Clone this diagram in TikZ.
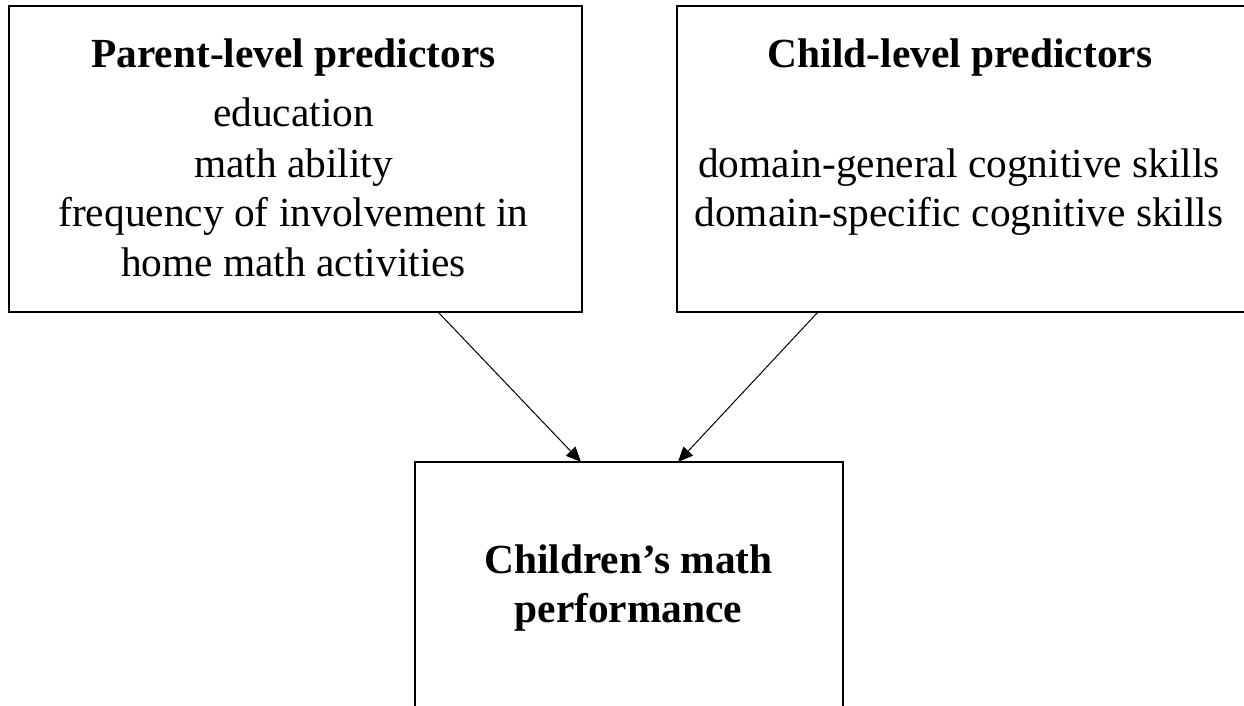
\documentclass[tikz,border=0pt]{standalone}
\usepackage{fontspec}
\setmainfont{Liberation Serif}
\usetikzlibrary{positioning}
\usetikzlibrary{arrows.meta}
\usetikzlibrary{calc}

\tikzset{
  box/.style={draw, line width=1pt, inner sep=0pt, outer sep=0pt},
  head/.style={font=\fontsize{20.7}{25}\selectfont\bfseries, anchor=base, inner sep=0pt},
  item/.style={font=\fontsize{20.7}{25}\selectfont, anchor=base, inner sep=0pt},
  arr/.style={-{Triangle[length=7.5pt,width=6.5pt]}, line width=0.5pt}
}

\begin{document}
\begin{tikzpicture}[x=0.5pt, y=-0.5pt]
                \useasboundingbox (0,0) rectangle (1244,706);
                \clip (0,0) rectangle (1244,706);
                \fill[white] (0,0) rectangle (1244,706);

                % Define the boxes
                \node[box, minimum width=573.5*0.5pt, minimum height=306*0.5pt] (parent) at (295.25,159) {};
                \node[box, minimum width=600*0.5pt, minimum height=306*0.5pt] (child) at (977,159) {};
                \node[box, minimum width=428*0.5pt, minimum height=300*0.5pt] (perf) at (629,612) {};

                % Parent-level text
                \node[head] (parenthead) at (293.5,68) {Parent-level predictors};
                \foreach \y/\txt in {126.5/education, 177/math ability, 227/frequency of involvement in, 277/home math activities}
                    \node[item] (parent\y) at (293.5,\y) {\txt};

                % Child-level text
                \node[head] (childhead) at (960,68) {Child-level predictors};
                \foreach \y/\txt in {177/domain-general cognitive skills, 227/domain-specific cognitive skills}
                    \node[item] (child\y) at (959,\y) {\txt};

                % Outcome text
                \node[head] (perfa) at (628.5,573) {Children’s math};
                \node[head] (perfb) at (628.5,622) {performance};

                % Draw the arrows
                \draw[arr] ([xshift=71.4pt]parent.south) -- ([xshift=-24pt]perf.north);
                \draw[arr] ([xshift=-79.5pt]child.south) -- ([xshift=24.5pt]perf.north);

\end{tikzpicture}
\end{document}
